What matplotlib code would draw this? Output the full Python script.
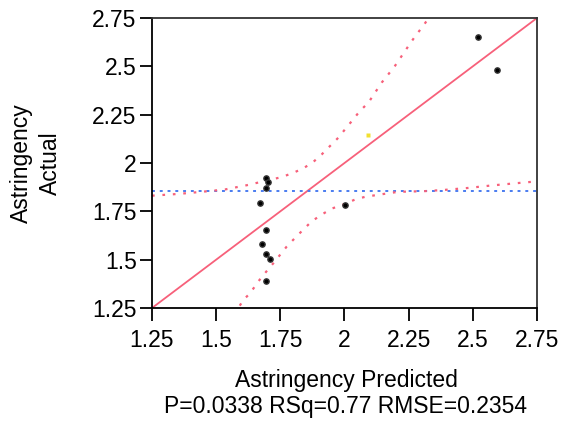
import numpy as np
import matplotlib
matplotlib.use('Agg')
import matplotlib.pyplot as plt

plt.rcParams['font.family'] = ['Liberation Sans', 'DejaVu Sans']

# data
pred = [2.521, 2.595, 1.693, 1.701, 1.693, 1.670, 2.001, 1.693, 1.677, 1.693, 1.708, 1.693]
actual = [2.653, 2.482, 1.921, 1.902, 1.871, 1.792, 1.781, 1.651, 1.581, 1.530, 1.501, 1.390]
excl_pred = [2.090]
excl_actual = [2.143]
mean_actual = 1.856

# confidence curves (upper and lower branches)
upper_x = [1.25, 1.352, 1.444, 1.534, 1.619, 1.671, 1.755, 1.800, 1.839, 1.878, 1.911,
           1.943, 1.976, 2.002, 2.034, 2.060, 2.093, 2.119, 2.145, 2.171, 2.197, 2.223,
           2.248, 2.275, 2.307, 2.32]
upper_y = [1.831, 1.840, 1.851, 1.863, 1.885, 1.901, 1.927, 1.949, 1.972, 2.005, 2.044,
           2.087, 2.131, 2.174, 2.226, 2.269, 2.312, 2.364, 2.416, 2.459, 2.503, 2.554,
           2.603, 2.655, 2.710, 2.735]
lower_x = [1.592, 1.606, 1.632, 1.664, 1.690, 1.723, 1.749, 1.775, 1.807, 1.839, 1.872,
           1.911, 1.950, 1.995, 2.041, 2.080, 2.138, 2.210, 2.307, 2.391, 2.482, 2.567,
           2.657, 2.75]
lower_y = [1.262, 1.292, 1.326, 1.387, 1.430, 1.482, 1.525, 1.568, 1.612, 1.655, 1.698,
           1.733, 1.764, 1.785, 1.811, 1.825, 1.837, 1.851, 1.854, 1.861, 1.871, 1.883,
           1.894, 1.905]

lims = [1.25, 2.75]
ticks = [1.25, 1.5, 1.75, 2, 2.25, 2.5, 2.75]
tick_labels = ['1.25', '1.5', '1.75', '2', '2.25', '2.5', '2.75']

red = '#f7607a'
blue = '#4a7cf0'
fs = 16.5

fig = plt.figure(figsize=(5.61, 4.22), dpi=100)
ax = fig.add_axes([152/561, 1 - 308/422, (537 - 152)/561, (308 - 18)/422])

ax.plot(lims, lims, color=red, lw=1.3, zorder=2)
ax.axhline(mean_actual, color=blue, lw=1.4, ls=(0, (1.5, 2.5)), zorder=2)
ax.plot(upper_x, upper_y, color=red, lw=1.6, ls=(0, (1.2, 3.5)), zorder=2)
ax.plot(lower_x, lower_y, color=red, lw=1.6, ls=(0, (1.2, 3.5)), zorder=2)
ax.plot(pred, actual, 'o', color='black', ms=3.8, mec='#333333', zorder=3)
ax.plot(excl_pred, excl_actual, 's', color='#f2e030', ms=3.3, mec='none', zorder=3)

ax.set_xlim(lims)
ax.set_ylim(lims)
ax.set_xticks(ticks)
ax.set_xticklabels(tick_labels)
ax.set_yticks(ticks)
ax.set_yticklabels(tick_labels)
ax.tick_params(direction='out', length=9, width=1.3, labelsize=fs, color='black')
ax.tick_params(axis='x', pad=6)
ax.tick_params(axis='y', pad=2)
for s in ax.spines.values():
    s.set_linewidth(1.3)
    s.set_color('#333333')
ax.spines['left'].set_color('black')
ax.spines['bottom'].set_color('black')

fig.text(346/561, 1 - 380/422, 'Astringency Predicted', fontsize=fs, ha='center', va='center')
fig.text(346/561, 1 - 407/422, 'P=0.0338 RSq=0.77 RMSE=0.2354', fontsize=fs,
         ha='center', va='center')
fig.text(36/561, 1 - 163/422, 'Astringency\nActual', fontsize=fs, rotation=90,
         ha='center', va='center', linespacing=1.35)

fig.savefig('out.png', dpi=100)
